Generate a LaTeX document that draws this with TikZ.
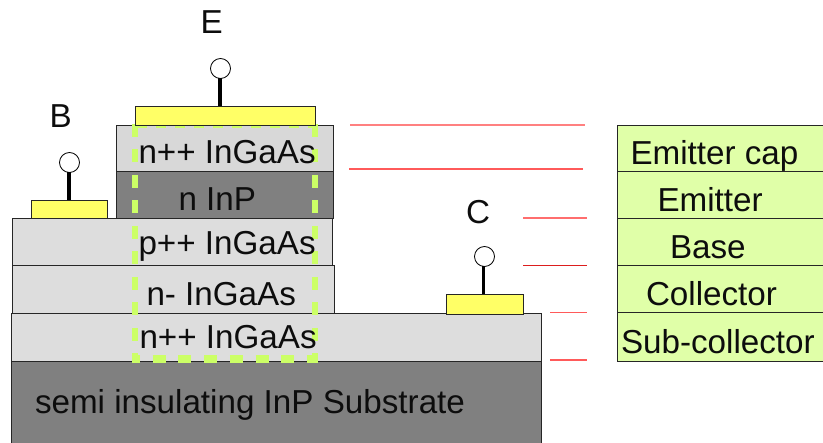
\documentclass[tikz,border=0pt]{standalone}
\usepackage{fontspec}
\setmainfont{Liberation Sans}
\definecolor{layerlight}{HTML}{DDDDDD}
\definecolor{layercap}{HTML}{D8D8D8}
\definecolor{layerdark}{HTML}{808080}
\definecolor{contact}{HTML}{FFFF66}
\definecolor{dashgreen}{HTML}{CCFF66}
\definecolor{tablegreen}{HTML}{E0FFA8}
\definecolor{reda}{HTML}{FF8080}
\definecolor{redb}{HTML}{FF5A5A}
\definecolor{redc}{HTML}{FF6E6E}
\definecolor{redd}{HTML}{DC1E1E}
\tikzset{
  box/.style={draw=black!85,rectangle,inner sep=0pt,outer sep=0pt,anchor=north west,line width=0.9pt},
  layer/.style={box,fill=layerlight},
  contactpad/.style={box,fill=contact},
  terminal/.style={circle,draw=black,fill=white,inner sep=0pt,outer sep=0pt,minimum size=20pt,line width=0.8pt},
  stem/.style={line width=3.6pt,black},
  lab/.style={anchor=base west,inner sep=0pt,outer sep=0pt,font=\fontsize{33.2}{36}\selectfont,text=black!95},
  row/.style={box,fill=tablegreen,minimum width=210pt,minimum height=47.2pt},
  redline/.style={line width=1.3pt,draw=#1},
  outlinedash/.style={draw=dashgreen,line width=6pt,dash pattern=on 13pt off 12.5pt}
}
\begin{document}
\begin{tikzpicture}[x=1pt,y=-1pt]
\useasboundingbox (0,0) rectangle (823,443);
% layers
\node[layer,fill=layerdark,minimum width=529.5pt,minimum height=85pt] (sub) at (11.5,361) {};
\node[layer,minimum width=529.5pt,minimum height=48pt] (subc) at (11.5,313) {};
\node[layer,minimum width=322pt,minimum height=47.5pt] (coll) at (12,265.5) {};
\node[layer,minimum width=320.5pt,minimum height=47pt] (base) at (12,218.5) {};
\node[layer,fill=layerdark,minimum width=217.5pt,minimum height=47.5pt] (emit) at (116,171) {};
\node[layer,fill=layercap,minimum width=217.5pt,minimum height=46pt] (cap) at (116,125) {};
% table
\node[row] (t1) at (617,125) {};
\node[row,minimum height=47pt] (t2) at (617,171) {};
\node[row,minimum height=47.5pt] (t3) at (617,218) {};
\node[row,minimum height=47pt] (t4) at (617,265.5) {};
\node[row,minimum height=48.5pt] (t5) at (617,312.5) {};
% contacts
\node[contactpad,minimum width=76pt,minimum height=18pt] (padb) at (31,200.5) {};
\node[contactpad,minimum width=77.5pt,minimum height=20pt] (padc) at (446,294) {};
% dashed outline
\draw[outlinedash] (134.5,124) -- (134.5,362);
\draw[outlinedash] (314.5,124) -- (314.5,362);
\draw[draw=dashgreen,line width=7.5pt,dash pattern=on 13pt off 12.7pt,dash phase=4.5pt] (131.5,359) -- (317.5,359);
\draw[draw=dashgreen,line width=3pt,dash pattern=on 10pt off 9pt] (137,127) -- (312,127);
% emitter contact over dashes
\node[contactpad,minimum width=180pt,minimum height=19pt] (pade) at (135,106) {};
% terminals
\node[terminal] (te) at (220.5,68.5) {};
\node[terminal] (tb) at (69.5,162.5) {};
\node[terminal] (tc) at (484.5,256.5) {};
\draw[stem] ([xshift=-0.5pt]te.south) -- ([xshift=-0.5pt]te.south |- pade.north);
\draw[stem] ([xshift=-0.5pt]tb.south) -- ([xshift=-0.5pt]tb.south |- padb.north);
\draw[stem] ([xshift=-1pt]tc.south) -- ([xshift=-1pt]tc.south |- padc.north);
% red lines
\coordinate (r1a) at (350,125); \coordinate (r1b) at (585,125);
\coordinate (r2a) at (349,169); \coordinate (r2b) at (583,169);
\coordinate (r3a) at (523,218); \coordinate (r3b) at (587,218);
\coordinate (r4a) at (523,265.5); \coordinate (r4b) at (587,265.5);
\coordinate (r5a) at (550,312.5); \coordinate (r5b) at (587,312.5);
\coordinate (r6a) at (550,360); \coordinate (r6b) at (587,360);
\draw[redline=reda] (r1a) -- (r1b);
\draw[redline=redb] (r2a) -- (r2b);
\draw[redline=redc] (r3a) -- (r3b);
\draw[redline=redd] (r4a) -- (r4b);
\draw[redline=redb] (r5a) -- (r5b);
\draw[redline=redb] (r6a) -- (r6b);
% labels
\node[lab] (le) at (138.5,163.5) {n++ InGaAs};
\node[lab] (ln) at (178.5,210.5) {n InP};
\node[lab] (lp) at (138.5,254.5) {p++ InGaAs};
\node[lab] (lm) at (146.5,305.5) {n- InGaAs};
\node[lab] (ls) at (139.5,348.5) {n++ InGaAs};
\node[lab] (lsub) at (35,413.5) {semi insulating InP Substrate};
\node[lab] (E) at (200.5,34) {E};
\node[lab] (B) at (49.5,128) {B};
\node[lab] (C) at (466,223.5) {C};
\node[lab] (t1l) at (630.5,164.5) {Emitter cap};
\node[lab] (t2l) at (657.5,212) {Emitter};
\node[lab] (t3l) at (670,258.5) {Base};
\node[lab] (t4l) at (646,305.5) {Collector};
\node[lab] (t5l) at (621,353.5) {Sub-collector};
\end{tikzpicture}
\end{document}
